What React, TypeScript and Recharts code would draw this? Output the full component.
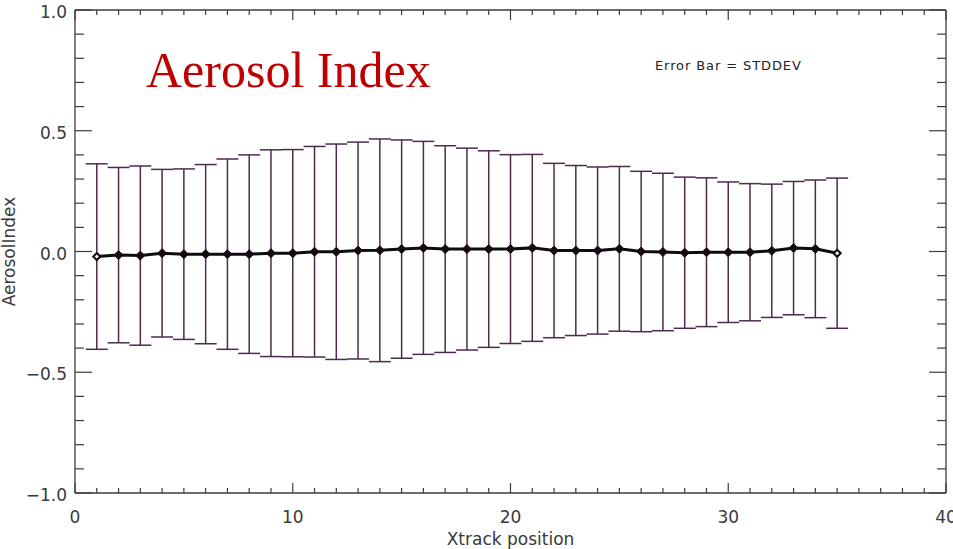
import React from 'react';
import { LineChart, Line, XAxis, YAxis, ErrorBar, Customized } from 'recharts';

const xPositions = [1, 2, 3, 4, 5, 6, 7, 8, 9, 10, 11, 12, 13, 14, 15, 16, 17, 18, 19, 20, 21, 22, 23, 24, 25, 26, 27, 28, 29, 30, 31, 32, 33, 34, 35];
const aerosolMean = [-0.021, -0.015, -0.017, -0.007, -0.011, -0.011, -0.011, -0.011, -0.007, -0.007, -0.001, -0.001, 0.004, 0.005, 0.01, 0.015, 0.01, 0.01, 0.01, 0.01, 0.015, 0.004, 0.004, 0.004, 0.011, 0.0, -0.002, -0.005, -0.003, -0.003, -0.003, 0.003, 0.014, 0.011, -0.007];
const aerosolStddev = [0.384, 0.363, 0.371, 0.347, 0.353, 0.371, 0.394, 0.411, 0.428, 0.429, 0.436, 0.446, 0.449, 0.461, 0.452, 0.441, 0.428, 0.418, 0.407, 0.391, 0.387, 0.361, 0.352, 0.346, 0.341, 0.332, 0.326, 0.313, 0.308, 0.291, 0.284, 0.276, 0.276, 0.285, 0.311];

const xTicks = [0, 1, 2, 3, 4, 5, 6, 7, 8, 9, 10, 11, 12, 13, 14, 15, 16, 17, 18, 19, 20, 21, 22, 23, 24, 25, 26, 27, 28, 29, 30, 31, 32, 33, 34, 35, 36, 37, 38, 39, 40];
const xMajorTicks = [0, 10, 20, 30, 40];
const yTicks = [-1.0, -0.9, -0.8, -0.7, -0.6, -0.5, -0.4, -0.3, -0.2, -0.1, 0.0, 0.1, 0.2, 0.3, 0.4, 0.5, 0.6, 0.7, 0.8, 0.9, 1.0];
const yMajorTicks = [-1.0, -0.5, 0.0, 0.5, 1.0];

const data = xPositions.map((x, i) => ({ x, mean: aerosolMean[i], err: aerosolStddev[i] }));

const axisColor = '#3c3c3c';
const textColor = '#3a3a3a';
const labelFont = '"DejaVu Sans", sans-serif';

const isMajor = (v: number, majors: number[]) => majors.some((m) => Math.abs(m - v) < 1e-6);
const fmtY = (v: number) => (v < 0 ? '\u2212' + Math.abs(v).toFixed(1) : v.toFixed(1));

const BottomTick = (p: any) => {
  const v = p.payload.value;
  const major = isMajor(v, xMajorTicks);
  return (
    <g>
      <line x1={p.x} x2={p.x} y1={p.y} y2={p.y - (major ? 10 : 5)} stroke={axisColor} strokeWidth={1.2} />
      {major && (
        <text x={p.x} y={p.y + 30} textAnchor="middle" fontFamily={labelFont} fontSize={17} fill={textColor}>
          {v}
        </text>
      )}
    </g>
  );
};

const TopTick = (p: any) => {
  const v = p.payload.value;
  const major = isMajor(v, xMajorTicks);
  return <line x1={p.x} x2={p.x} y1={p.y} y2={p.y + (major ? 10 : 5)} stroke={axisColor} strokeWidth={1.2} />;
};

const LeftTick = (p: any) => {
  const v = p.payload.value;
  const major = isMajor(v, yMajorTicks);
  return (
    <g>
      <line x1={p.x} x2={p.x + (major ? 17 : 9)} y1={p.y} y2={p.y} stroke={axisColor} strokeWidth={1.2} />
      {major && (
        <text x={p.x - 8} y={p.y + 8} textAnchor="end" fontFamily={labelFont} fontSize={17} fill={textColor}>
          {fmtY(v)}
        </text>
      )}
    </g>
  );
};

const RightTick = (p: any) => {
  const v = p.payload.value;
  const major = isMajor(v, yMajorTicks);
  return <line x1={p.x} x2={p.x - (major ? 17 : 9)} y1={p.y} y2={p.y} stroke={axisColor} strokeWidth={1.2} />;
};

const DiamondDot = (p: any) => {
  const { cx, cy, index } = p;
  if (cx == null || cy == null) return <g key={index} />;
  const r = 4.5;
  const edge = index === 0 || index === xPositions.length - 1;
  return (
    <g key={index}>
      <polygon points={`${cx},${cy - r} ${cx + r},${cy} ${cx},${cy + r} ${cx - r},${cy}`} fill="#160816" stroke="#160816" strokeWidth={1} />
      {edge && <polygon points={`${cx},${cy - 2} ${cx + 2},${cy} ${cx},${cy + 2} ${cx - 2},${cy}`} fill="#ffffff" />}
    </g>
  );
};

const Annotations = () => (
  <g>
    <text x={146} y={87} fontFamily='"Liberation Serif", "DejaVu Serif", serif' fontSize={50} fill="#c00000">
      Aerosol Index
    </text>
    <text x={655} y={70} fontFamily={labelFont} fontSize={13} letterSpacing={0.9} fill="#222">
      Error Bar = STDDEV
    </text>
  </g>
);

export default function App() {
  return (
    <div style={{ position: 'absolute', left: 0, top: 0, width: 953, height: 549, background: '#fff' }}>
      <LineChart width={953} height={549} data={data} margin={{ top: 9, right: 6, bottom: 0, left: 0 }}>
        <XAxis
          xAxisId="bottom"
          dataKey="x"
          type="number"
          domain={[0, 40]}
          ticks={xTicks}
          interval={0}
          height={56}
          tickSize={0}
          tickMargin={0}
          tickLine={false}
          tick={<BottomTick />}
          axisLine={{ stroke: axisColor, strokeWidth: 1.3 }}
          label={{ value: 'Xtrack position', position: 'insideBottom', offset: 4, fontFamily: labelFont, fontSize: 17, fill: textColor }}
        />
        <XAxis
          xAxisId="top"
          orientation="top"
          dataKey="x"
          type="number"
          domain={[0, 40]}
          ticks={xTicks}
          interval={0}
          height={1}
          tickSize={0}
          tickMargin={0}
          tickLine={false}
          tick={<TopTick />}
          axisLine={{ stroke: axisColor, strokeWidth: 1.3 }}
        />
        <YAxis
          yAxisId="left"
          type="number"
          domain={[-1, 1]}
          ticks={yTicks}
          interval={0}
          width={75}
          tickSize={0}
          tickMargin={0}
          tickLine={false}
          tick={<LeftTick />}
          axisLine={{ stroke: axisColor, strokeWidth: 1.3 }}
          label={{ value: 'AerosolIndex', angle: -90, position: 'insideLeft', offset: 9, fontFamily: labelFont, fontSize: 17, fill: textColor, style: { textAnchor: 'middle' } }}
        />
        <YAxis
          yAxisId="right"
          orientation="right"
          type="number"
          domain={[-1, 1]}
          ticks={yTicks}
          interval={0}
          width={1}
          tickSize={0}
          tickMargin={0}
          tickLine={false}
          tick={<RightTick />}
          axisLine={{ stroke: axisColor, strokeWidth: 1.3 }}
        />
        <Line
          xAxisId="top"
          yAxisId="right"
          dataKey="mean"
          stroke="none"
          dot={false}
          activeDot={false}
          isAnimationActive={false}
        />
        <Line
          xAxisId="bottom"
          yAxisId="left"
          dataKey="mean"
          stroke="none"
          dot={false}
          activeDot={false}
          isAnimationActive={false}
        >
          <ErrorBar dataKey="err" width={11} stroke="#4d2b4d" strokeWidth={1.5} direction="y" isAnimationActive={false} />
        </Line>
        <Line
          xAxisId="bottom"
          yAxisId="left"
          dataKey="mean"
          type="linear"
          stroke="#0d0d0d"
          strokeWidth={3}
          dot={<DiamondDot />}
          activeDot={false}
          isAnimationActive={false}
        />
        <Customized component={<Annotations />} />
      </LineChart>
    </div>
  );
}
